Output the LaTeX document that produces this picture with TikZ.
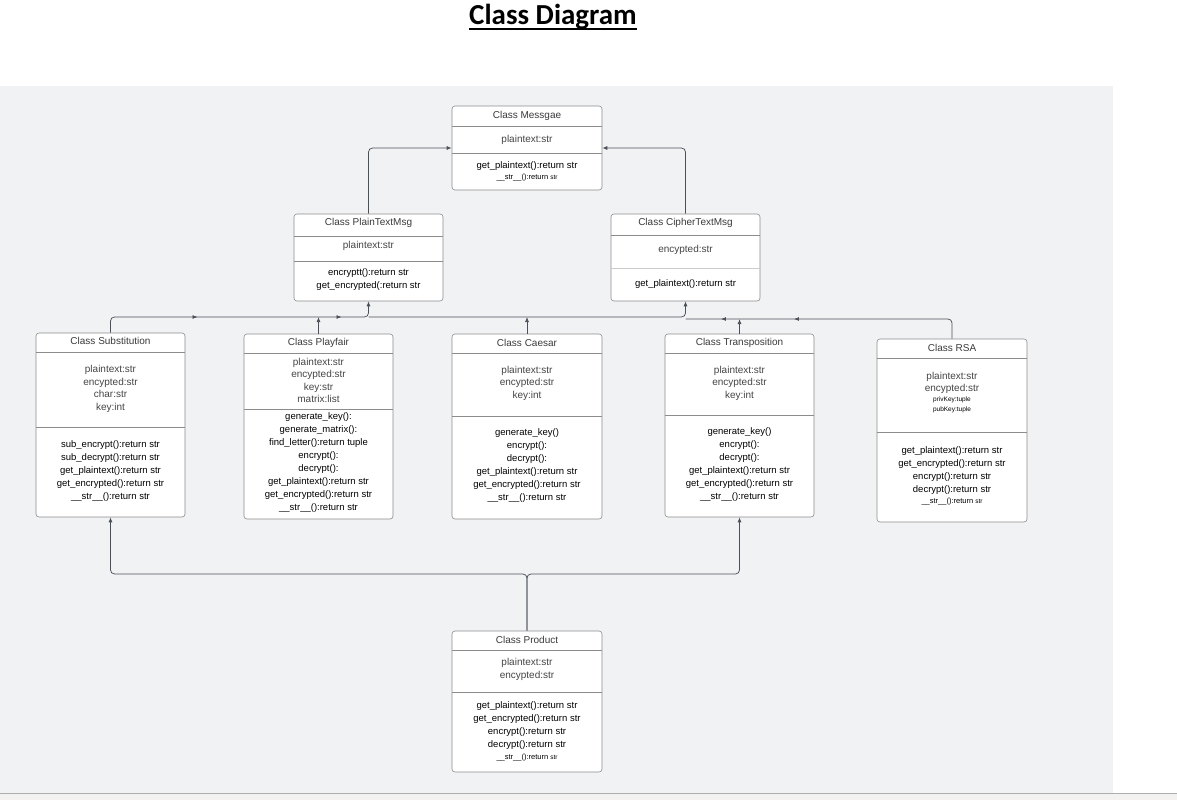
\documentclass[tikz,border=0pt]{standalone}
\usepackage{fontspec}
\setmainfont{Liberation Sans}
\newfontfamily\headfont{Carlito}
\usetikzlibrary{arrows.meta,decorations.markings}
\definecolor{panel}{HTML}{F1F2F4}
\definecolor{barfill}{HTML}{F3F2F1}
\definecolor{boxgray}{HTML}{8C8C8C}
\definecolor{linkgray}{HTML}{4A505A}
\definecolor{titlegray}{HTML}{3A3A3A}
\definecolor{attrgray}{HTML}{454545}
\tikzset{
  classbox/.style={draw=boxgray, fill=white, rounded corners=3pt, line width=0.6pt, inner sep=0pt},
  sepline/.style={draw=boxgray, line width=0.6pt},
  ctitle/.style={font=\fontsize{10}{12}\selectfont, text=titlegray},
  cattr/.style={font=\fontsize{10}{12.5}\selectfont, text=attrgray, align=center},
  cmeth/.style={font=\fontsize{9.5}{13}\selectfont, align=center},
  link/.style={draw=linkgray, line width=0.75pt, rounded corners=4pt, -{Latex[length=5pt,width=4pt]}},
  plainlink/.style={draw=linkgray, line width=0.75pt, rounded corners=4pt},
}
\newcommand{\smallstr}{{\fontsize{7.5}{9}\selectfont \_\_str\_\_():return {\fontsize{6.5}{7}\selectfont str}}}
\begin{document}
\begin{tikzpicture}[x=1pt,y=-1pt]
    \useasboundingbox (0,0) rectangle (1177,800);
    % Canvas
    \fill[panel] (0,86) rectangle (1113,793);
    \fill[barfill] (0,793) rectangle (1177,800);
    \draw[boxgray!70, line width=1pt] (0,793) -- (1177,793);
    % Heading
    \node[inner sep=0pt, anchor=base, font=\headfont\bfseries\fontsize{29}{33}\selectfont] (ttl) at (553,25) {Class Diagram};
    \draw[line width=1.9pt] ([yshift=-4pt]ttl.base west) -- ([yshift=-4pt]ttl.base east);

    % Class Messgae
    \node[classbox, minimum width=150pt, minimum height=84pt] (msg) at (527,148) {};
    \draw[sepline] (452,126) -- (602,126);
    \draw[sepline] (452,153) -- (602,153);
    \node[ctitle] (msgT) at (527,116) {Class Messgae};
    \node[cattr] (msgA) at (527,139.5) {plaintext:str};
    \node[cmeth] (msgM) at (527,166) {get\_plaintext():return str};
    \node[inner sep=0pt] (msgS) at (527,178) {\smallstr};

    % Class PlainTextMsg
    \node[classbox, minimum width=149pt, minimum height=87pt] (ptm) at (368.5,257.5) {};
    \draw[sepline] (294,236) -- (443,236);
    \draw[sepline] (294,261) -- (443,261);
    \node[ctitle] (ptmT) at (368.5,223) {Class PlainTextMsg};
    \node[cattr] (ptmA) at (368.5,246) {plaintext:str};
    \node[cmeth] (ptmM) at (368.5,279.5) {encryptt():return str\\get\_encrypted(:return str};

    % Class CipherTextMsg
    \node[classbox, minimum width=149pt, minimum height=87pt] (ctm) at (685.5,257.5) {};
    \draw[sepline] (611,235) -- (760,235);
    \draw[sepline, boxgray!45] (611,268) -- (760,268);
    \node[ctitle] (ctmT) at (685.5,223) {Class CipherTextMsg};
    \node[cattr] (ctmA) at (685.5,250) {encypted:str};
    \node[cmeth] (ctmM) at (685.5,284) {get\_plaintext():return str};

    % Class Substitution
    \node[classbox, minimum width=149pt, minimum height=184pt] (sub) at (110.5,425) {};
    \draw[sepline] (36,352) -- (185,352);
    \draw[sepline] (36,427) -- (185,427);
    \node[ctitle] (subT) at (110.5,341) {Class Substitution};
    \node[cattr] (subA) at (110.5,389) {plaintext:str\\encypted:str\\char:str\\key:int};
    \node[cmeth] (subM) at (110.5,471) {sub\_encrypt():return str\\sub\_decrypt():return str\\get\_plaintext():return str\\get\_encrypted():return str\\\_\_str\_\_():return str};

    % Class Playfair
    \node[classbox, minimum width=149pt, minimum height=185pt] (pf) at (318.5,426.5) {};
    \draw[sepline] (244,353) -- (393,353);
    \draw[sepline] (244,409) -- (393,409);
    \node[ctitle] (pfT) at (318.5,343) {Class Playfair};
    \node[cattr] (pfA) at (318.5,380.5) {plaintext:str\\encypted:str\\key:str\\matrix:list};
    \node[cmeth] (pfM) at (318.5,462.5) {generate\_key():\\generate\_matrix():\\find\_letter():return tuple\\encrypt():\\decrypt():\\get\_plaintext():return str\\get\_encrypted():return str\\\_\_str\_\_():return str};

    % Class Caesar
    \node[classbox, minimum width=150pt, minimum height=185pt] (cae) at (527,426.5) {};
    \draw[sepline] (452,353) -- (602,353);
    \draw[sepline] (452,416) -- (602,416);
    \node[ctitle] (caeT) at (527,343) {Class Caesar};
    \node[cattr] (caeA) at (527,383) {plaintext:str\\encypted:str\\key:int};
    \node[cmeth] (caeM) at (527,465.5) {generate\_key()\\encrypt():\\decrypt():\\get\_plaintext():return str\\get\_encrypted():return str\\\_\_str\_\_():return str};

    % Class Transposition
    \node[classbox, minimum width=149pt, minimum height=183pt] (tra) at (739.5,425.5) {};
    \draw[sepline] (665,353) -- (814,353);
    \draw[sepline] (665,415) -- (814,415);
    \node[ctitle] (traT) at (739.5,343) {Class Transposition};
    \node[cattr] (traA) at (739.5,383) {plaintext:str\\encypted:str\\key:int};
    \node[cmeth] (traM) at (739.5,464.5) {generate\_key()\\encrypt():\\decrypt():\\get\_plaintext():return str\\get\_encrypted():return str\\\_\_str\_\_():return str};

    % Class RSA
    \node[classbox, minimum width=150pt, minimum height=183pt] (rsa) at (952,430.5) {};
    \draw[sepline] (877,358) -- (1027,358);
    \draw[sepline] (877,432) -- (1027,432);
    \node[ctitle] (rsaT) at (952,348) {Class RSA};
    \node[cattr] (rsaA) at (952,383) {plaintext:str\\encypted:str};
    \node[cattr, font=\fontsize{6.5}{10}\selectfont, text=black] (rsaK) at (952,405) {privKey:tuple\\pubKey:tuple};
    \node[cmeth] (rsaM) at (952,470.5) {get\_plaintext():return str\\get\_encrypted():return str\\encrypt():return str\\decrypt():return str};
    \node[inner sep=0pt] (rsaS) at (952,502) {\smallstr};

    % Class Product
    \node[classbox, minimum width=150pt, minimum height=141pt] (prod) at (527,701.5) {};
    \draw[sepline] (452,650) -- (602,650);
    \draw[sepline] (452,692) -- (602,692);
    \node[ctitle] (prodT) at (527,640) {Class Product};
    \node[cattr] (prodA) at (527,669.5) {plaintext:str\\encypted:str};
    \node[cmeth] (prodM) at (527,725.5) {get\_plaintext():return str\\get\_encrypted():return str\\encrypt():return str\\decrypt():return str};
    \node[inner sep=0pt] (prodS) at (527,758) {\smallstr};

    % Buses
    \coordinate (busA) at (0,317);
    \coordinate (busB) at (0,319);
    \coordinate (busC) at (0,574);

    % Links to Messgae
    \draw[link] (ptm.north) |- (msg.west);
    \draw[link] (ctm.north) |- (msg.east);
    % Upper bus
    \draw[link, postaction={decorate, decoration={markings,
        mark=at position 101pt with {\arrow{Latex[length=5pt,width=4pt]}},
        mark=at position 245pt with {\arrow{Latex[length=5pt,width=4pt]}}}}]
        (sub.north) |- (busA -| ptm.south) -- (ptm.south);
    \draw[link] (busA -| ptm.south) -| (ctm.south);
    \draw[link] (pf.north) -- (pf.north |- busA);
    \draw[link] (cae.north) -- (cae.north |- busA);
    \draw[plainlink, postaction={decorate, decoration={markings,
        mark=at position 176pt with {\arrow{Latex[length=5pt,width=4pt]}},
        mark=at position 249pt with {\arrow{Latex[length=5pt,width=4pt]}}}}]
        (rsa.north) |- (busB -| ctm.south);
    \draw[link] (tra.north) -- (tra.north |- busB);
    % Lower bus
    \draw[link] (prod.north) |- (busC -| sub.south) -- (sub.south);
    \draw[link] (prod.north) |- (busC -| tra.south) -- (tra.south);
\end{tikzpicture}
\end{document}
